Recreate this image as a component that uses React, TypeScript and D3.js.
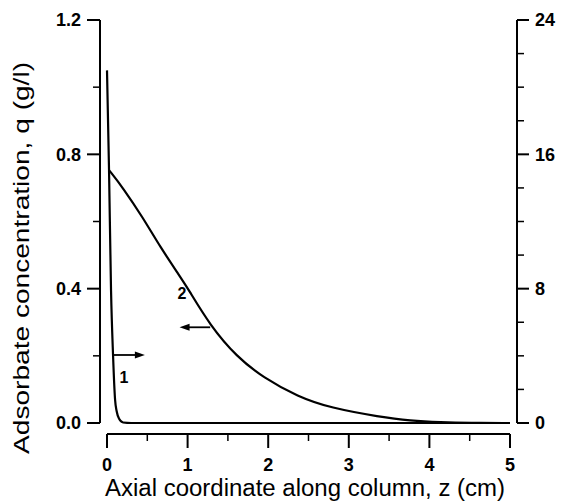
import React from "react";
import * as d3 from "d3";

// Curve 1 (right axis): concentration in mobile phase
const z1 = [0, 0.025, 0.05, 0.075, 0.1, 0.12, 0.15, 0.2, 0.3, 1, 2, 3, 4, 5];
const c1 = [21.0, 15.1, 7.9, 4.05, 1.4, 0.7, 0.25, 0.03, 0, 0, 0, 0, 0, 0];

// Curve 2 (left axis): adsorbate concentration q
const z2 = [0.025, 0.19, 0.45, 0.66, 0.91, 1.0, 1.28, 1.61, 1.94, 2.37, 2.77, 3.39, 3.76, 4.14, 4.5, 5];
const q2 = [0.753, 0.703, 0.61, 0.524, 0.435, 0.402, 0.29, 0.197, 0.135, 0.078, 0.045, 0.018, 0.007, 0.002, 0, 0];

const leftTicks = [0, 0.4, 0.8, 1.2];
const leftMinor = [0.2, 0.6, 1.0];
const rightTicks = [0, 8, 16, 24];
const rightMinor = [2, 4, 6, 10, 12, 14, 18, 20, 22];
const xTicks = [0, 1, 2, 3, 4, 5];
const xMinor = [0.5, 1.5, 2.5, 3.5, 4.5];

const xTitle = "Axial coordinate along column, z (cm)";
const yTitle = "Adsorbate concentration, q (g/l)";

export default function App() {
  const x = d3.scaleLinear().domain([0, 5]).range([107, 510]);
  const yL = d3.scaleLinear().domain([0, 1.2]).range([423, 20]);
  const yR = d3.scaleLinear().domain([0, 24]).range([423, 20]);

  const line1 = d3
    .line<number>()
    .x((_, i) => x(z1[i]))
    .y((d) => yR(d))
    .curve(d3.curveMonotoneX)(c1);
  const line2 = d3
    .line<number>()
    .x((_, i) => x(z2[i]))
    .y((d) => yL(d))
    .curve(d3.curveBasis)(q2);

  const font = "'Liberation Sans', Arial, Helvetica, sans-serif";
  const axisX0 = 100;
  const axisX1 = 517;
  const xAxisY = 434;

  // annotation arrows in data coordinates
  const a1y = yR(4.05);
  const a1x0 = x(0.075);
  const a1x1 = x(0.47);
  const a2y = yL(0.285);
  const a2x0 = x(1.28);
  const a2x1 = x(0.9);

  return (
    <svg
      width={563}
      height={503}
      style={{ position: "absolute", left: 0, top: 0, background: "#fff" }}
      fontFamily={font}
    >
      <rect width={563} height={503} fill="#fff" />
      {/* left axis */}
      <line x1={axisX0} x2={axisX0} y1={yL(1.2)} y2={yL(0)} stroke="#000" strokeWidth={2} />
      {leftTicks.map((t) => (
        <g key={"l" + t}>
          <line x1={axisX0 - 13} x2={axisX0} y1={yL(t)} y2={yL(t)} stroke="#000" strokeWidth={2} />
          <text x={axisX0 - 19} y={yL(t)} dy="0.36em" textAnchor="end" fontSize={18} fontWeight="bold">
            {t.toFixed(1)}
          </text>
        </g>
      ))}
      {leftMinor.map((t) => (
        <line key={"lm" + t} x1={axisX0 - 7} x2={axisX0} y1={yL(t)} y2={yL(t)} stroke="#000" strokeWidth={1.5} />
      ))}
      {/* right axis */}
      <line x1={axisX1} x2={axisX1} y1={yR(24)} y2={yR(0)} stroke="#000" strokeWidth={2} />
      {rightTicks.map((t) => (
        <g key={"r" + t}>
          <line x1={axisX1} x2={axisX1 + 12} y1={yR(t)} y2={yR(t)} stroke="#000" strokeWidth={2} />
          <text x={axisX1 + 18} y={yR(t)} dy="0.36em" textAnchor="start" fontSize={18} fontWeight="bold">
            {t}
          </text>
        </g>
      ))}
      {rightMinor.map((t) => (
        <line key={"rm" + t} x1={axisX1} x2={axisX1 + 7} y1={yR(t)} y2={yR(t)} stroke="#000" strokeWidth={1.5} />
      ))}
      {/* x axis */}
      <line x1={x(0)} x2={x(5)} y1={xAxisY} y2={xAxisY} stroke="#000" strokeWidth={2} />
      {xTicks.map((t) => (
        <g key={"x" + t}>
          <line x1={x(t)} x2={x(t)} y1={xAxisY} y2={xAxisY + 14} stroke="#000" strokeWidth={2} />
          <text x={x(t)} y={471} textAnchor="middle" fontSize={18} fontWeight="bold">
            {t}
          </text>
        </g>
      ))}
      {xMinor.map((t) => (
        <line key={"xm" + t} x1={x(t)} x2={x(t)} y1={xAxisY} y2={xAxisY + 7} stroke="#000" strokeWidth={1.5} />
      ))}
      {/* curves */}
      <path d={line1 || ""} fill="none" stroke="#000" strokeWidth={2.2} />
      <path d={line2 || ""} fill="none" stroke="#000" strokeWidth={2.2} />
      {/* annotations */}
      <line x1={a1x0} x2={a1x1 - 6} y1={a1y} y2={a1y} stroke="#000" strokeWidth={1.8} />
      <path d={`M${a1x1},${a1y} L${a1x1 - 10},${a1y - 3.5} L${a1x1 - 10},${a1y + 3.5} Z`} fill="#000" />
      <line x1={a2x0} x2={a2x1 + 6} y1={a2y} y2={a2y} stroke="#000" strokeWidth={1.8} />
      <path d={`M${a2x1},${a2y} L${a2x1 + 10},${a2y - 3.5} L${a2x1 + 10},${a2y + 3.5} Z`} fill="#000" />
      <text x={x(0.21)} y={yR(2.4)} textAnchor="middle" fontSize={16} fontWeight="bold">1</text>
      <text x={x(0.93)} y={yL(0.37)} textAnchor="middle" fontSize={16} fontWeight="bold">2</text>
      {/* titles */}
      <text x={305} y={496} textAnchor="middle" fontSize={23} textLength={400} lengthAdjust="spacingAndGlyphs">
        {xTitle}
      </text>
      <text
        transform={`translate(29,258) rotate(-90)`}
        textAnchor="middle"
        fontSize={22}
        textLength={392}
        lengthAdjust="spacingAndGlyphs"
      >
        {yTitle}
      </text>
    </svg>
  );
}
